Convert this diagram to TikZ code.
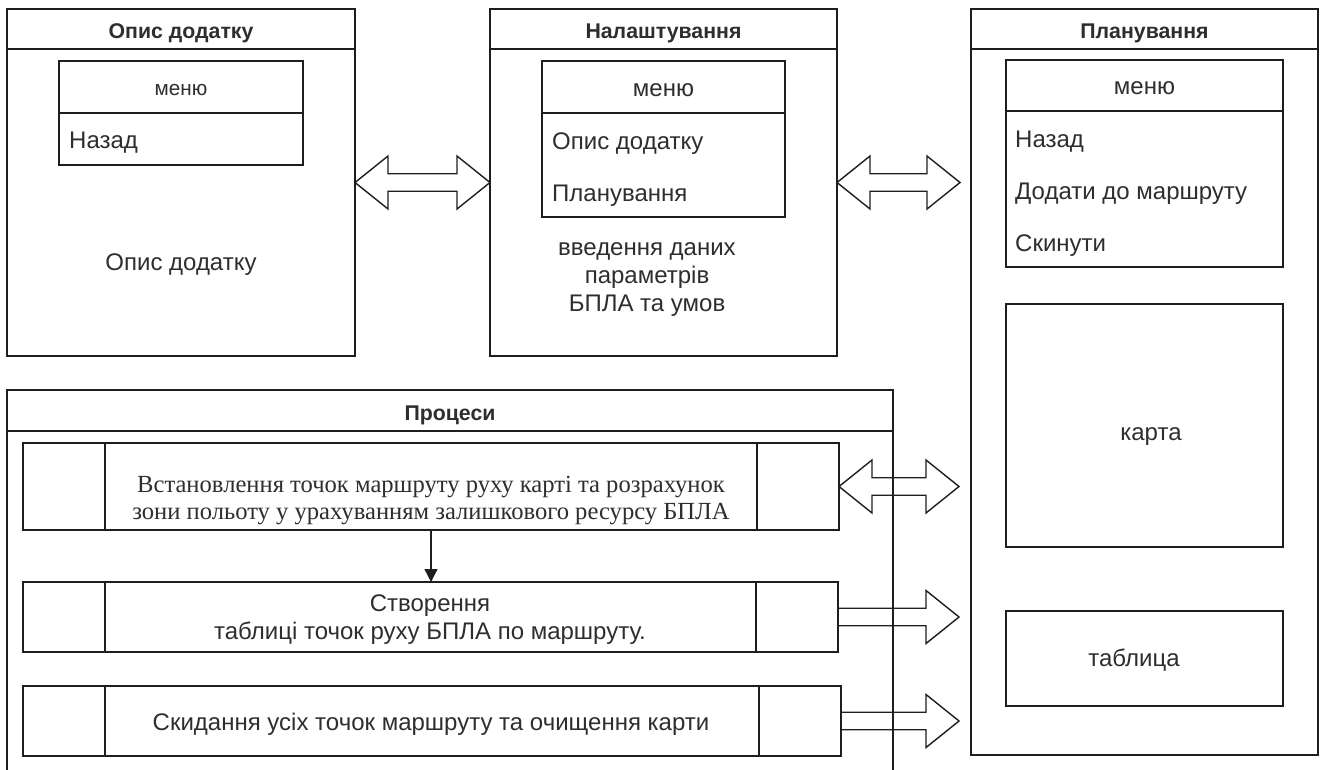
\documentclass[tikz,border=0pt]{standalone}
\usepackage{fontspec}
\setmainfont{Liberation Sans}
\newfontfamily\timesfont{Liberation Serif}
\usetikzlibrary{calc,arrows.meta}
\definecolor{ink}{HTML}{1E1E1E}
\definecolor{txt}{HTML}{2E2E2E}

% block arrows between two tip points (horizontal)
\newcommand\twoheaded[2]{%
  \draw[blockarrow] (#1) -- ($(#1)+(33,-26.5)$) -- ($(#1)+(33,-8.75)$)
    -- ($(#2)+(-33,-8.75)$) -- ($(#2)+(-33,-26.5)$) -- (#2)
    -- ($(#2)+(-33,26.5)$) -- ($(#2)+(-33,8.75)$)
    -- ($(#1)+(33,8.75)$) -- ($(#1)+(33,26.5)$) -- cycle;}
\newcommand\oneheaded[2]{%
  \draw[blockarrow] ($(#1)+(0,-8.75)$) -- ($(#2)+(-33,-8.75)$)
    -- ($(#2)+(-33,-26.5)$) -- (#2) -- ($(#2)+(-33,26.5)$)
    -- ($(#2)+(-33,8.75)$) -- ($(#1)+(0,8.75)$);}

\begin{document}
\begin{tikzpicture}[x=1pt,y=-1pt,
  frame/.style={draw=ink, line width=1.6pt, rectangle, anchor=north west,
    inner sep=0pt, outer sep=0pt},
  rule/.style={draw=ink, line width=1.6pt},
  hdr/.style={anchor=base, inner sep=0pt, text=txt,
    font=\bfseries\fontsize{21.3}{25}\selectfont},
  lbl/.style={anchor=base, inner sep=0pt, text=txt,
    font=\fontsize{24}{28}\selectfont},
  smalllbl/.style={lbl, font=\fontsize{20.7}{24}\selectfont},
  item/.style={lbl, anchor=base west},
  multi/.style={anchor=north, inner sep=0pt, text=txt, align=center,
    font=\fontsize{24}{28}\selectfont},
  serifmulti/.style={multi, font=\timesfont\fontsize{24.6}{27}\selectfont},
  blockarrow/.style={draw=ink, line width=1.4pt, line join=miter},
  flow/.style={draw=ink, line width=1.3pt, -{Triangle[length=13pt,width=13pt]}}]

\useasboundingbox (0,0) rectangle (1322,769);
\fill[white] (0,0) rectangle (1322,769);

% ---------- screen: application description ----------
\node[frame, minimum width=348pt, minimum height=347pt] (app) at (7,9) {};
\draw[rule] ($(app.north west)+(0,40)$) -- ($(app.north east)+(0,40)$);
\node[hdr] (appT) at ($(app.north)+(0,29)$) {Опис додатку};
\node[frame, minimum width=244pt, minimum height=104pt] (m1) at (59,61) {};
\draw[rule] ($(m1.north west)+(0,52)$) -- ($(m1.north east)+(0,52)$);
\node[smalllbl] (m1T) at ($(m1.north)+(0,34)$) {меню};
\node[item] (m1a) at ($(m1.north west)+(10,87.3)$) {Назад};
\node[lbl] (appB) at (181,270.7) {Опис додатку};

% ---------- screen: settings ----------
\node[frame, minimum width=347pt, minimum height=347pt] (set) at (490,9) {};
\draw[rule] ($(set.north west)+(0,40)$) -- ($(set.north east)+(0,40)$);
\node[hdr] (setT) at ($(set.north)+(0,29)$) {Налаштування};
\node[frame, minimum width=243pt, minimum height=156pt] (m2) at (542,61) {};
\draw[rule] ($(m2.north west)+(0,52)$) -- ($(m2.north east)+(0,52)$);
\node[lbl] (m2T) at ($(m2.north)+(0,35.5)$) {меню};
\node[item] (m2a) at ($(m2.north west)+(10,88.5)$) {Опис додатку};
\node[item] (m2b) at ($(m2.north west)+(10,140)$) {Планування};
\node[multi] (setB) at (647,236) {\strut введення даних\\параметрів\\БПЛА та умов};

% ---------- screen: planning ----------
\node[frame, minimum width=347pt, minimum height=746pt] (plan) at (971,9) {};
\draw[rule] ($(plan.north west)+(0,40)$) -- ($(plan.north east)+(0,40)$);
\node[hdr] (planT) at ($(plan.north)+(0,29)$) {Планування};
\node[frame, minimum width=277pt, minimum height=207pt] (m3) at (1006,60) {};
\draw[rule] ($(m3.north west)+(0,51)$) -- ($(m3.north east)+(0,51)$);
\node[lbl] (m3T) at ($(m3.north)+(0,34.3)$) {меню};
\node[item] (m3a) at ($(m3.north west)+(9,87.3)$) {Назад};
\node[item] (m3b) at ($(m3.north west)+(9,139.5)$) {Додати до маршруту};
\node[item] (m3c) at ($(m3.north west)+(9,191)$) {Скинути};
\node[frame, minimum width=277pt, minimum height=243pt] (map) at (1006,304) {};
\node[lbl] (mapT) at (1151,440) {карта};
\node[frame, minimum width=277pt, minimum height=95pt] (tab) at (1006,611) {};
\node[lbl] (tabT) at (1134,666) {таблица};

% ---------- processes ----------
\node[frame, minimum width=886pt, minimum height=400pt] (proc) at (7,390) {};
\draw[rule] ($(proc.north west)+(0,41)$) -- ($(proc.north east)+(0,41)$);
\node[hdr] (procT) at ($(proc.north)+(0,30)$) {Процеси};

\node[frame, minimum width=816pt, minimum height=87pt] (pr1) at (23,443) {};
\node[frame, minimum width=815pt, minimum height=70pt] (pr2) at (23,582) {};
\node[frame, minimum width=818pt, minimum height=70pt] (pr3) at (23,686) {};
\foreach \p in {pr1,pr2,pr3}{
  \draw[rule] ($(\p.north west)+(82,0)$) -- ($(\p.south west)+(82,0)$);
  \draw[rule] ($(\p.north east)+(-82,0)$) -- ($(\p.south east)+(-82,0)$);
}
\node[serifmulti] (pr1T) at (431,473.6)
  {\strut Встановлення точок маршруту руху карті та розрахунок\\зони польоту у урахуванням залишкового ресурсу БПЛА};
\node[multi] (pr2T) at (430,592.1)
  {\strut Створення\\таблиці точок руху БПЛА по маршруту.};
\node[lbl] (pr3T) at (431,730) {Скидання усіх точок маршруту та очищення карти};

\draw[flow] (pr1.south) -- (pr1.south |- pr2.north);

% ---------- transitions ----------
\twoheaded{app.east}{set.west}
\coordinate (a2end) at ($(set.east -| plan.west)+(-11,0)$);
\twoheaded{set.east}{a2end}
\coordinate (a3end) at ($(pr1.east -| plan.west)+(-12,0)$);
\twoheaded{pr1.east}{a3end}
\coordinate (a4end) at ($(pr2.east -| plan.west)+(-12,0)$);
\oneheaded{pr2.east}{a4end}
\coordinate (a5end) at ($(pr3.east -| plan.west)+(-12,0)$);
\oneheaded{pr3.east}{a5end}
\end{tikzpicture}
\end{document}
